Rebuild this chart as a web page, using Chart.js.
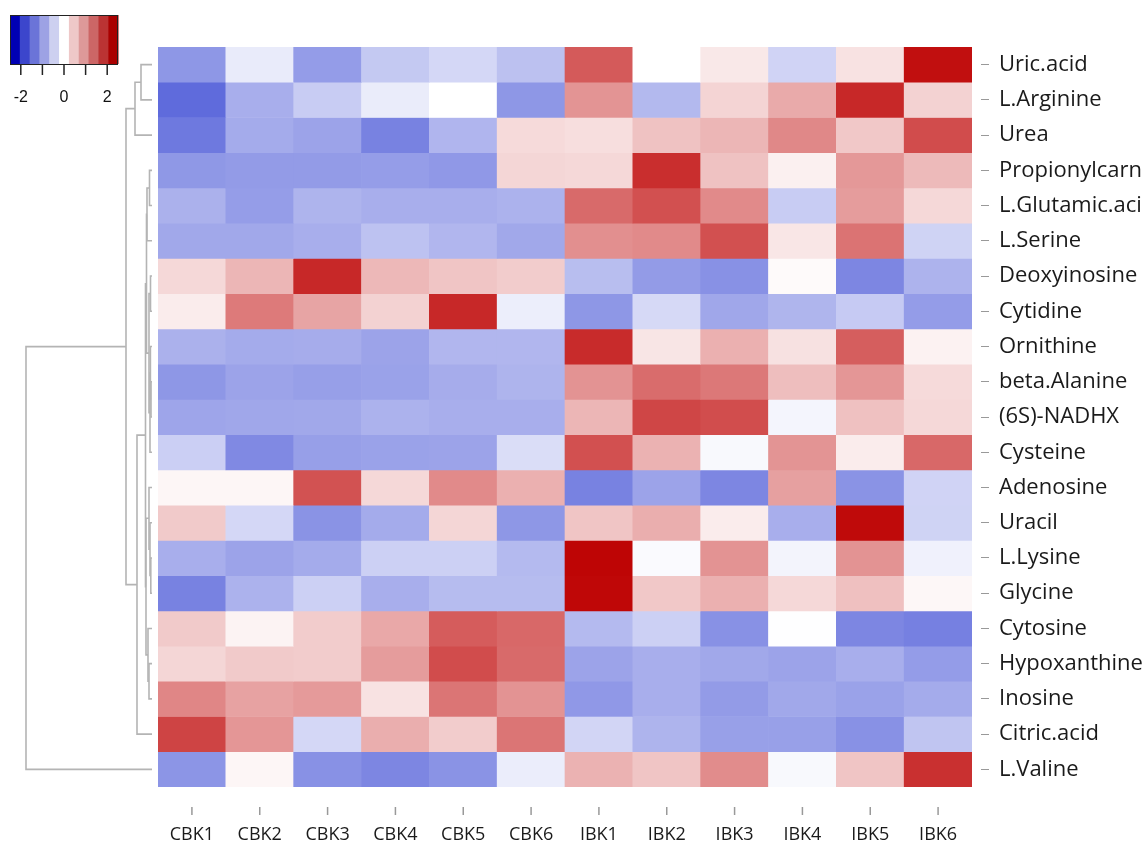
<!DOCTYPE html>
<html>
<head>
<meta charset="utf-8">
<script src="https://cdn.jsdelivr.net/npm/chart.js@4/dist/chart.umd.min.js"></script>
<style>
  html, body { margin: 0; padding: 0; background: #fff; }
  #wrap { width: 1146px; height: 841px; position: relative; }
</style>
</head>
<body>
<div id="wrap"><canvas id="heat"></canvas></div>
<script>
// samples (columns) and metabolites (rows, top to bottom)
const sampleNames = ['CBK1', 'CBK2', 'CBK3', 'CBK4', 'CBK5', 'CBK6', 'IBK1', 'IBK2', 'IBK3', 'IBK4', 'IBK5', 'IBK6'];
const rowNames = ['Uric.acid', 'L.Arginine', 'Urea', 'Propionylcarn', 'L.Glutamic.aci', 'L.Serine',
    'Deoxyinosine', 'Cytidine', 'Ornithine', 'beta.Alanine', '(6S)-NADHX', 'Cysteine', 'Adenosine',
    'Uracil', 'L.Lysine', 'Glycine', 'Cytosine', 'Hypoxanthine', 'Inosine', 'Citric.acid', 'L.Valine'];

// row-scaled values, one array per metabolite
const uricAcid      = [-1.15, -0.22, -1.09, -0.60, -0.44, -0.68,  1.72,  0.00,  0.24, -0.48,  0.30,  2.50];
const lArginine     = [-1.63, -0.89, -0.56, -0.21,  0.00, -1.15,  1.11, -0.77,  0.45,  0.88,  2.24,  0.47];
const urea          = [-1.48, -0.93, -1.01, -1.38, -0.81,  0.38,  0.34,  0.63,  0.76,  1.24,  0.57,  1.86];
const propionylcarn = [-1.14, -1.10, -1.10, -1.08, -1.13,  0.43,  0.41,  2.17,  0.63,  0.16,  1.07,  0.72];
const lGlutamic     = [-0.86, -1.08, -0.83, -0.89, -0.89, -0.85,  1.55,  1.82,  1.22, -0.56,  1.03,  0.41];
const lSerine       = [-0.96, -0.96, -0.89, -0.67, -0.80, -0.96,  1.17,  1.22,  1.82,  0.26,  1.46, -0.49];
const deoxyinosine  = [ 0.41,  0.76,  2.24,  0.74,  0.60,  0.53, -0.72, -1.10, -1.21,  0.05, -1.33, -0.84];
const cytidine      = [ 0.20,  1.38,  0.95,  0.47,  2.24, -0.19, -1.15, -0.42, -0.97, -0.82, -0.58, -1.09];
const ornithine     = [-0.86, -0.93, -0.91, -1.01, -0.80, -0.80,  2.20,  0.27,  0.82,  0.31,  1.67,  0.14];
const betaAlanine   = [-1.15, -1.01, -1.06, -1.03, -0.91, -0.83,  1.12,  1.53,  1.40,  0.68,  1.09,  0.38];
const nadhx         = [-0.99, -0.97, -0.96, -0.85, -0.89, -0.89,  0.76,  1.92,  1.85, -0.11,  0.64,  0.41];
const cysteine      = [-0.53, -1.30, -1.06, -1.03, -1.01, -0.38,  1.82,  0.80, -0.07,  1.11,  0.20,  1.57];
const adenosine     = [ 0.09,  0.09,  1.80,  0.41,  1.22,  0.82, -1.38, -1.01, -1.33,  0.99, -1.19, -0.48];
const uracil        = [ 0.55, -0.44, -1.19, -0.93,  0.43, -1.15,  0.60,  0.84,  0.20, -0.89,  2.55, -0.49];
const lLysine       = [-0.89, -1.01, -0.93, -0.52, -0.52, -0.76,  2.60, -0.05,  1.12, -0.12,  1.12, -0.15];
const glycine       = [-1.38, -0.85, -0.52, -0.89, -0.74, -0.74,  2.58,  0.57,  0.82,  0.41,  0.66,  0.08];
const cytosine      = [ 0.55,  0.13,  0.53,  0.90,  1.70,  1.57, -0.76, -0.52, -1.21, -0.01, -1.33, -1.40];
const hypoxanthine  = [ 0.43,  0.55,  0.53,  1.03,  1.86,  1.55, -1.01, -0.89, -0.96, -1.01, -0.89, -1.09];
const inosine       = [ 1.26,  0.97,  1.05,  0.30,  1.44,  1.12, -1.13, -0.89, -1.10, -0.96, -1.03, -0.93];
const citricAcid    = [ 1.95,  1.09, -0.44,  0.84,  0.53,  1.44, -0.46, -0.83, -1.05, -1.05, -1.21, -0.64];
const lValine       = [-1.17,  0.09, -1.21, -1.33, -1.19, -0.20,  0.80,  0.60,  1.20, -0.07,  0.60,  2.15];

const rowValues = [uricAcid, lArginine, urea, propionylcarn, lGlutamic, lSerine, deoxyinosine, cytidine,
    ornithine, betaAlanine, nadhx, cysteine, adenosine, uracil, lLysine, glycine, cytosine,
    hypoxanthine, inosine, citricAcid, lValine];

// row dendrogram: leaves are 0..20, merge k gets id 21+k; [left, right, height]
const rowMerges = [
    [3, 4, 2.5],    // 21
    [21, 5, 5],     // 22
    [6, 7, 1.5],    // 23
    [9, 10, 1],     // 24
    [8, 24, 1.6],   // 25
    [25, 11, 2],    // 26
    [23, 26, 3],    // 27
    [22, 27, 5.5],  // 28
    [14, 15, 1.2],  // 29
    [13, 29, 2],    // 30
    [12, 30, 3],    // 31
    [17, 18, 3],    // 32
    [16, 32, 4],    // 33
    [31, 33, 6],    // 34
    [28, 34, 6.5],  // 35
    [35, 19, 15],   // 36
    [0, 1, 11],     // 37
    [37, 2, 17],    // 38
    [38, 36, 26],   // 39
    [39, 20, 126]   // 40
];

// colour key
const keyBreaks = [-2.5, 2.5];
const keyColors = ['#0000B4', '#3C46CC', '#6B74D8', '#9DA2E4', '#CDD0F0', '#FFFFFF',
    '#EEC8C8', '#DD9999', '#CC6666', '#BB3333', '#AA0000'];
const keyTicks = [-2, -1, 0, 1, 2];
const keyLabels = [-2, 0, 2];

const MAXV = 2.6;
const blueEnd = [0, 19, 199];
const redEnd = [190, 5, 5];
function heatColor(v) {
    const t = Math.min(1, Math.abs(v) / MAXV);
    const end = v < 0 ? blueEnd : redEnd;
    const c = end.map(e => Math.round(255 + (e - 255) * t));
    return 'rgb(' + c.join(',') + ')';
}

const datasets = rowValues.map((vals, r) => ({
    label: rowNames[r],
    data: vals.map(() => [r, r + 1]),
    backgroundColor: vals.map(heatColor),
    borderWidth: 0,
    barPercentage: 1,
    categoryPercentage: 1,
    grouped: false
}));

const dendroPlugin = {
    id: 'dendro',
    afterDraw(chart) {
        const ctx = chart.ctx;
        const area = chart.chartArea;
        const yScale = chart.scales.y;
        const xScale = chart.scales.x;
        const leafX = area.left - 6;
        const rootX = 26;
        const maxH = Math.max(...rowMerges.map(m => m[2]));
        const k = (leafX - rootX) / maxH;
        const nodes = rowNames.map((n, i) => ({ y: yScale.getPixelForValue(i + 0.5), h: 0 }));
        ctx.save();
        ctx.strokeStyle = '#b4b4b4';
        ctx.lineWidth = 1.6;
        rowMerges.forEach(([a, b, h]) => {
            const na = nodes[a], nb = nodes[b];
            const x = leafX - h * k;
            ctx.beginPath();
            ctx.moveTo(leafX - na.h * k, na.y);
            ctx.lineTo(x, na.y);
            ctx.lineTo(x, nb.y);
            ctx.lineTo(leafX - nb.h * k, nb.y);
            ctx.stroke();
            nodes.push({ y: (na.y + nb.y) / 2, h: h });
        });

        // column tick marks, detached from the heatmap
        ctx.strokeStyle = '#999';
        ctx.lineWidth = 1.5;
        sampleNames.forEach((s, i) => {
            const x = xScale.getPixelForValue(i);
            ctx.beginPath();
            ctx.moveTo(x, area.bottom + 20);
            ctx.lineTo(x, area.bottom + 28);
            ctx.stroke();
        });

        // colour key
        const kx0 = 10, kx1 = 118, ky0 = 15, ky1 = 64;
        const toX = v => kx0 + (v - keyBreaks[0]) / (keyBreaks[1] - keyBreaks[0]) * (kx1 - kx0);
        const segW = (kx1 - kx0) / keyColors.length;
        keyColors.forEach((c, i) => {
            ctx.fillStyle = c;
            ctx.fillRect(kx0 + i * segW, ky0, segW + 0.5, ky1 - ky0);
        });
        ctx.strokeStyle = '#222';
        ctx.lineWidth = 1;
        ctx.strokeRect(kx0 + 0.5, ky0 + 0.5, kx1 - kx0 - 1, ky1 - ky0);
        ctx.lineWidth = 1.5;
        keyTicks.forEach(v => {
            ctx.beginPath();
            ctx.moveTo(toX(v), ky1);
            ctx.lineTo(toX(v), ky1 + 11);
            ctx.stroke();
        });
        ctx.fillStyle = '#111';
        ctx.font = '16px "Liberation Sans", Arial, sans-serif';
        ctx.textAlign = 'center';
        ctx.textBaseline = 'middle';
        keyLabels.forEach(v => ctx.fillText(String(v), toX(v), 98));
        ctx.restore();
    }
};

new Chart(document.getElementById('heat'), {
    type: 'bar',
    data: { labels: sampleNames, datasets: datasets },
    options: {
        responsive: true,
        maintainAspectRatio: false,
        animation: false,
        layout: { padding: { left: 158, top: 47, right: 0, bottom: 0 } },
        plugins: {
            legend: { display: false },
            title: { display: false },
            tooltip: { enabled: false }
        },
        scales: {
            x: {
                position: 'bottom',
                offset: true,
                border: { display: false },
                grid: { display: false, drawTicks: false },
                ticks: {
                    color: '#1a1a1a',
                    padding: 37,
                    maxRotation: 0,
                    font: { family: '"Open Sans", sans-serif', size: 18 }
                },
                afterFit(scale) { scale.height = 54; }
            },
            y: {
                type: 'linear',
                position: 'right',
                min: 0,
                max: rowNames.length,
                reverse: true,
                border: { display: false },
                grid: {
                    drawOnChartArea: false,
                    drawTicks: true,
                    tickLength: 17,
                    tickBorderDash: [0, 9, 8, 100],
                    tickColor: '#999',
                    tickWidth: 1
                },
                afterBuildTicks(scale) {
                    scale.ticks = rowNames.map((n, i) => ({ value: i + 0.5 }));
                },
                ticks: {
                    autoSkip: false,
                    color: '#1a1a1a',
                    padding: 10,
                    font: { family: '"Open Sans", sans-serif', size: 22 },
                    callback: (value) => rowNames[Math.floor(value)]
                },
                afterFit(scale) { scale.width = 174; }
            }
        }
    },
    plugins: [dendroPlugin]
});
</script>
</body>
</html>
